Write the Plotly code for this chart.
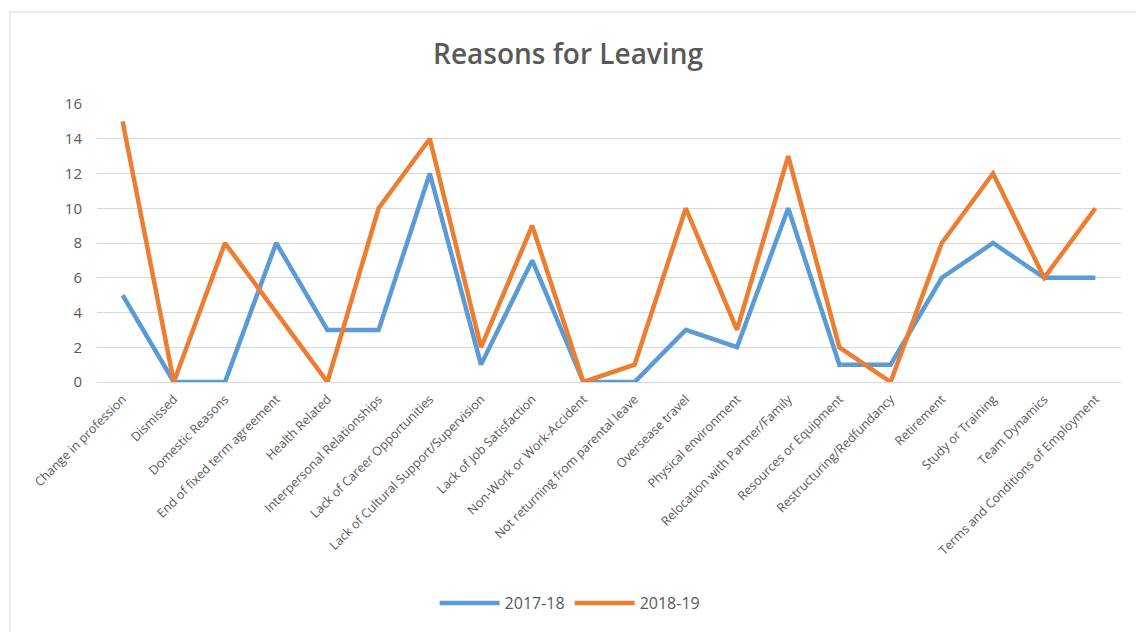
import plotly.graph_objects as go

categories = [
    "Change in profession", "Dismissed", "Domestic Reasons", "End of fixed term agreement",
    "Health Related", "Interpersonal Relationships", "Lack of Career Opportunities",
    "Lack of Cultural Support/Supervision", "Lack of Job Satisfaction",
    "Non-Work or Work-Accident", "Not returning from parental leave", "Oversease travel",
    "Physical environment", "Relocation with Partner/Family", "Resources or Equipment",
    "Restructuring/Redfundancy", "Retirement", "Study or Training", "Team Dynamics",
    "Terms and Conditions of Employment",
]
values_2017_18 = [5, 0, 0, 8, 3, 3, 12, 1, 7, 0, 0, 3, 2, 10, 1, 1, 6, 8, 6, 6]
values_2018_19 = [15, 0, 8, 4, 0, 10, 14, 2, 9, 0, 1, 10, 3, 13, 2, 0, 8, 12, 6, 10]
y_ticks = [0, 2, 4, 6, 8, 10, 12, 14, 16]

fig = go.Figure()
fig.add_trace(go.Scatter(x=categories, y=values_2017_18, mode="lines", name="2017-18",
                         line=dict(color="#5B9BD5", width=4.5)))
fig.add_trace(go.Scatter(x=categories, y=values_2018_19, mode="lines", name="2018-19",
                         line=dict(color="#ED7D31", width=4.5)))

fig.update_layout(
    width=1136, height=632,
    margin=dict(l=97, r=15, t=104, b=250),
    paper_bgcolor="white", plot_bgcolor="white",
    font=dict(family="Open Sans, Liberation Sans, sans-serif", color="#595959"),
    title=dict(text="Reasons for Leaving", x=0.5, xanchor="center", y=0.915, yanchor="middle",
               font=dict(family="Open Sans, sans-serif", size=28, weight=600, color="#595959")),
    showlegend=True,
    legend=dict(orientation="h", x=0.462, xanchor="center", y=-0.795, yanchor="middle",
                font=dict(size=16, color="#595959"), itemwidth=60),
    xaxis=dict(tickangle=-45, tickfont=dict(size=12.5, color="#595959"), showgrid=False,
               range=[-0.5, len(categories) - 0.5], ticklabelstandoff=4,
               showline=True, linecolor="#D9D9D9", ticks="", zeroline=False),
    yaxis=dict(range=[0, 16], tickvals=y_ticks, tickfont=dict(size=15, color="#595959"),
               showgrid=True, gridcolor="#D9D9D9", gridwidth=1, zeroline=False, ticks="",
               ticklabelstandoff=14),
    shapes=[dict(type="rect", xref="paper", yref="paper", x0=-0.085, x1=1.05, y0=-1.0, y1=1.331,
                 line=dict(color="#D9D9D9", width=1), fillcolor="rgba(0,0,0,0)", layer="below")],
)

fig.write_html("out.html")
